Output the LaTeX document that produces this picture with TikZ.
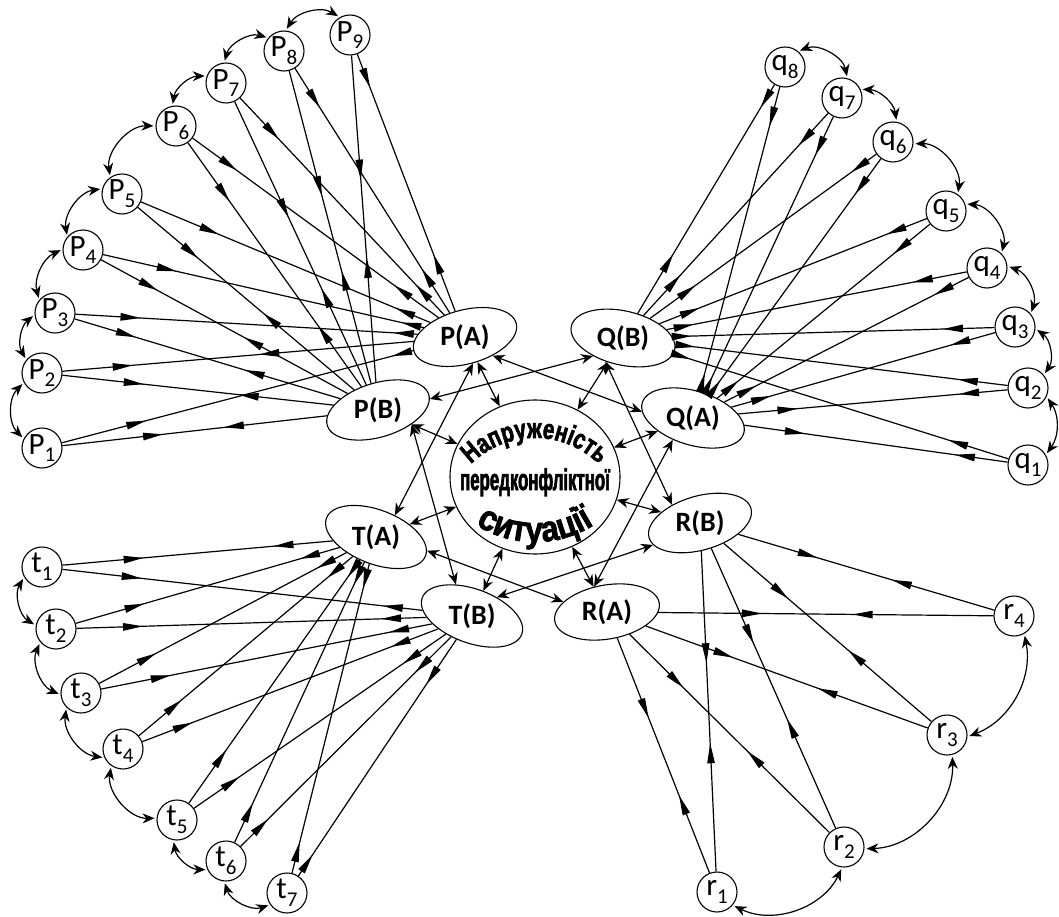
\documentclass[tikz,border=0pt]{standalone}
\usepackage{fontspec}
\setmainfont{Carlito}
\newfontfamily\ctop[FakeStretch=0.74,FakeBold=2]{Liberation Sans}
\newfontfamily\cmid[FakeStretch=0.56,FakeBold=2]{Liberation Sans}
\newfontfamily\cbot[FakeStretch=0.88,FakeBold=2]{Liberation Sans}
\usetikzlibrary{arrows.meta,shapes.geometric,decorations.markings,decorations.text}
\newcommand\lbl[2]{#1\raisebox{-0.25em}{\fontsize{21}{21}\selectfont #2}}
\tikzset{
 sm/.style={circle,draw,line width=1.1pt,minimum size=40pt,inner sep=0pt,font=\fontsize{31}{31}\selectfont},
 el/.style={ellipse,draw,line width=1.1pt,minimum width=106pt,minimum height=54pt,inner sep=0pt},
 et/.style={font=\bfseries\fontsize{28}{28}\selectfont,inner sep=0pt},
 ln/.style={line width=1.2pt},
 mt/.tip={Triangle[length=20pt,width=7.5pt]},
 two/.style 2 args={ln,postaction={decorate},decoration={markings,
   mark=at position #1 with {\arrow{mt}},
   mark=at position #2 with {\arrowreversed{mt}}}},
 bi/.style={ln,{Stealth[length=12pt,width=10pt]}-{Stealth[length=12pt,width=10pt]}},
 cv/.style={bi,shorten <=2pt,shorten >=2pt},
}
\begin{document}
\begin{tikzpicture}[x=1pt,y=1pt]
\useasboundingbox (0,0) rectangle (1059,-917);
% small nodes
\node[sm] (P1) at (42,-448) {\lbl{P}{1}};
\node[sm] (P2) at (42,-373) {\lbl{P}{2}};
\node[sm] (P3) at (55,-313) {\lbl{P}{3}};
\node[sm] (P4) at (83,-250) {\lbl{P}{4}};
\node[sm] (P5) at (122,-194) {\lbl{P}{5}};
\node[sm] (P6) at (176,-126) {\lbl{P}{6}};
\node[sm] (P7) at (226,-83) {\lbl{P}{7}};
\node[sm] (P8) at (284,-51) {\lbl{P}{8}};
\node[sm] (P9) at (350,-35) {\lbl{P}{9}};
\node[sm] (q8) at (785,-67) {\lbl{q}{8}};
\node[sm] (q7) at (842,-98) {\lbl{q}{7}};
\node[sm] (q6) at (893,-142) {\lbl{q}{6}};
\node[sm] (q5) at (946,-211) {\lbl{q}{5}};
\node[sm] (q4) at (987,-268) {\lbl{q}{4}};
\node[sm] (q3) at (1015,-327) {\lbl{q}{3}};
\node[sm] (q2) at (1028,-388) {\lbl{q}{2}};
\node[sm] (q1) at (1028,-465) {\lbl{q}{1}};
\node[sm] (t1) at (42,-567) {\lbl{t}{1}};
\node[sm] (t2) at (56,-629) {\lbl{t}{2}};
\node[sm] (t3) at (81,-693) {\lbl{t}{3}};
\node[sm] (t4) at (123,-749) {\lbl{t}{4}};
\node[sm] (t5) at (177,-820) {\lbl{t}{5}};
\node[sm] (t6) at (226,-861) {\lbl{t}{6}};
\node[sm] (t7) at (287,-893) {\lbl{t}{7}};
\node[sm] (r1) at (717,-892) {\lbl{r}{1}};
\node[sm] (r2) at (844,-847) {\lbl{r}{2}};
\node[sm] (r3) at (947,-735) {\lbl{r}{3}};
\node[sm] (r4) at (1014,-616) {\lbl{r}{4}};
% ellipses
\node[el,rotate=15] (PA) at (465,-337) {};
\node[el,rotate=17] (PB) at (378,-410) {};
\node[el,rotate=-13] (QB) at (623,-338) {};
\node[el,rotate=-17] (QA) at (693,-418) {};
\node[el,rotate=16] (RB) at (700,-523) {};
\node[el,rotate=10] (RA) at (607,-612) {};
\node[el,rotate=-21] (TA) at (376,-537) {};
\node[el,rotate=-20] (TB) at (472,-616) {};
\node[et] (PAt) at (PA) {P(A)};
\node[et] (PBt) at (PB) {P(B)};
\node[et] (QBt) at (QB) {Q(B)};
\node[et] (QAt) at (QA) {Q(A)};
\node[et] (RBt) at (RB) {R(B)};
\node[et] (RAt) at (RA) {R(A)};
\node[et] (TAt) at (TA) {T(A)};
\node[et] (TBt) at (TB) {T(B)};
% centre
\node[ellipse,draw,line width=1.1pt,minimum width=170pt,minimum height=154pt,inner sep=0pt] (C) at (535,-477) {};
\path[decorate,decoration={text along path,text align=center,text={|\ctop\bfseries\fontsize{28}{28}\selectfont|Напруженість}}] (465.3,-470.5) arc[start angle=140,end angle=40,radius=91];
\node[font=\cmid\bfseries\fontsize{30}{30}\selectfont,anchor=base,inner sep=0pt] (Cm) at (535,-490) {передконфліктної};
\path[decorate,decoration={text along path,text align=center,text={|\cbot\bfseries\fontsize{36}{36}\selectfont|ситуації}}] (463.65,-516.03) arc[start angle=230,end angle=310,radius=111];
% P lines
\draw[two={0.13}{0.78}] (P9) -- (PA);
\draw[two={0.38}{0.62}] (P9) -- (PB);
\draw[two={0.16}{0.82}] (P8) -- (PA);
\draw[two={0.40}{0.64}] (P8) -- (PB);
\draw[two={0.19}{0.86}] (P7) -- (PA);
\draw[two={0.41}{0.66}] (P7) -- (PB);
\draw[two={0.18}{0.82}] (P6) -- (PA);
\draw[two={0.24}{0.75}] (P6) -- (PB);
\draw[two={0.27}{0.88}] (P5) -- (PA);
\draw[two={0.28}{0.58}] (P5) -- (PB);
\draw[two={0.23}{0.93}] (P4) -- (PA);
\draw[two={0.23}{0.58}] (P4) -- (PB);
\draw[two={0.19}{0.93}] (P3) -- (PA);
\draw[two={0.23}{0.64}] (P3) -- (PB);
\draw[two={0.20}{0.56}] (P2) -- (PA);
\draw[two={0.30}{0.65}] (P2) -- (PB);
\draw[two={0.24}{0.94}] (P1) -- (PA);
\draw[two={0.38}{0.61}] (P1) -- (PB);
% Q lines
\draw[two={0.10}{0.74}] (q8) -- (QB);
\draw[two={0.13}{0.94}] (q8) -- (QA);
\draw[two={0.16}{0.80}] (q7) -- (QB);
\draw[two={0.14}{0.94}] (q7) -- (QA);
\draw[two={0.11}{0.80}] (q6) -- (QB);
\draw[two={0.15}{0.94}] (q6) -- (QA);
\draw[two={0.15}{0.85}] (q5) -- (QB);
\draw[two={0.17}{0.90}] (q5) -- (QA);
\draw[two={0.18}{0.91}] (q4) -- (QB);
\draw[two={0.14}{0.87}] (q4) -- (QA);
\draw[two={0.16}{0.94}] (q3) -- (QB);
\draw[two={0.17}{0.85}] (q3) -- (QA);
\draw[two={0.15}{0.94}] (q2) -- (QB);
\draw[two={0.18}{0.78}] (q2) -- (QA);
\draw[two={0.18}{0.95}] (q1) -- (QB);
\draw[two={0.20}{0.77}] (q1) -- (QA);
% T lines
\draw[two={0.30}{0.78}] (t1) -- (TA);
\draw[two={0.22}{0.89}] (t1) -- (TB);
\draw[two={0.26}{0.85}] (t2) -- (TA);
\draw[two={0.19}{0.87}] (t2) -- (TB);
\draw[two={0.23}{0.88}] (t3) -- (TA);
\draw[two={0.21}{0.87}] (t3) -- (TB);
\draw[two={0.20}{0.88}] (t4) -- (TA);
\draw[two={0.17}{0.84}] (t4) -- (TB);
\draw[two={0.22}{0.93}] (t5) -- (TA);
\draw[two={0.18}{0.83}] (t5) -- (TB);
\draw[two={0.14}{0.92}] (t6) -- (TA);
\draw[two={0.13}{0.83}] (t6) -- (TB);
\draw[two={0.10}{0.92}] (t7) -- (TA);
\draw[two={0.09}{0.81}] (t7) -- (TB);
% R lines
\draw[two={0.33}{0.66}] (r1) -- (RA);
\draw[two={0.40}{0.65}] (r1) -- (RB);
\draw[two={0.41}{0.73}] (r2) -- (RA);
\draw[two={0.39}{0.66}] (r2) -- (RB);
\draw[two={0.39}{0.69}] (r3) -- (RA);
\draw[two={0.40}{0.69}] (r3) -- (RB);
\draw[two={0.42}{0.69}] (r4) -- (RA);
\draw[two={0.40}{0.69}] (r4) -- (RB);
% centre links
\draw[bi] (PA) -- (C);
\draw[bi] (PB) -- (C);
\draw[bi] (QB) -- (C);
\draw[bi] (QA) -- (C);
\draw[bi] (RB) -- (C);
\draw[bi] (RA) -- (C);
\draw[bi] (TB) -- (C);
\draw[bi] (TA) -- (C);
\draw[bi] (PA.-88) -- (TA.70);
\draw[bi] (PB.-40) -- (TB.137);
\draw[bi] (PA.-49) -- (QA.190);
\draw[bi] (PB.-5) -- (QB.224);
\draw[bi] (QB.246) -- (RB.131);
\draw[bi] (QA.244) -- (RA.107);
\draw[bi] (RB.189) -- (TB.57);
\draw[bi] (RA.157) -- (TA.6);
% curved neighbour links
\draw[cv] (P1.153) to[bend left=45] (P2.208);
\draw[cv] (P2.140) to[bend left=40] (P3.185);
\draw[cv] (P3.140) to[bend left=40] (P4.178);
\draw[cv] (P4.140) to[bend left=45] (P5.165);
\draw[cv] (P5.125) to[bend left=50] (P6.180);
\draw[cv] (P6.100) to[bend left=40] (P7.160);
\draw[cv] (P7.95) to[bend left=45] (P8.140);
\draw[cv] (P8.85) to[bend left=45] (P9.120);
\draw[cv] (q8.50) to[bend left=50] (q7.75);
\draw[cv] (q7.25) to[bend left=40] (q6.80);
\draw[cv] (q6.-5) to[bend left=50] (q5.55);
\draw[cv] (q5.20) to[bend left=50] (q4.45);
\draw[cv] (q4.5) to[bend left=45] (q3.40);
\draw[cv] (q3.-5) to[bend left=45] (q2.40);
\draw[cv] (q2.-25) to[bend left=35] (q1.30);
\draw[cv] (t1.210) to[bend right=45] (t2.170);
\draw[cv] (t2.220) to[bend right=45] (t3.185);
\draw[cv] (t3.225) to[bend right=45] (t4.205);
\draw[cv] (t4.235) to[bend right=50] (t5.175);
\draw[cv] (t5.260) to[bend right=40] (t6.205);
\draw[cv] (t6.265) to[bend right=45] (t7.215);
\draw[cv] (r1.-40) to[bend right=45] (r2.-95);
\draw[cv] (r2.-5) to[bend right=45] (r3.-75);
\draw[cv] (r3.-5) to[bend right=40] (r4.-60);
\end{tikzpicture}
\end{document}
